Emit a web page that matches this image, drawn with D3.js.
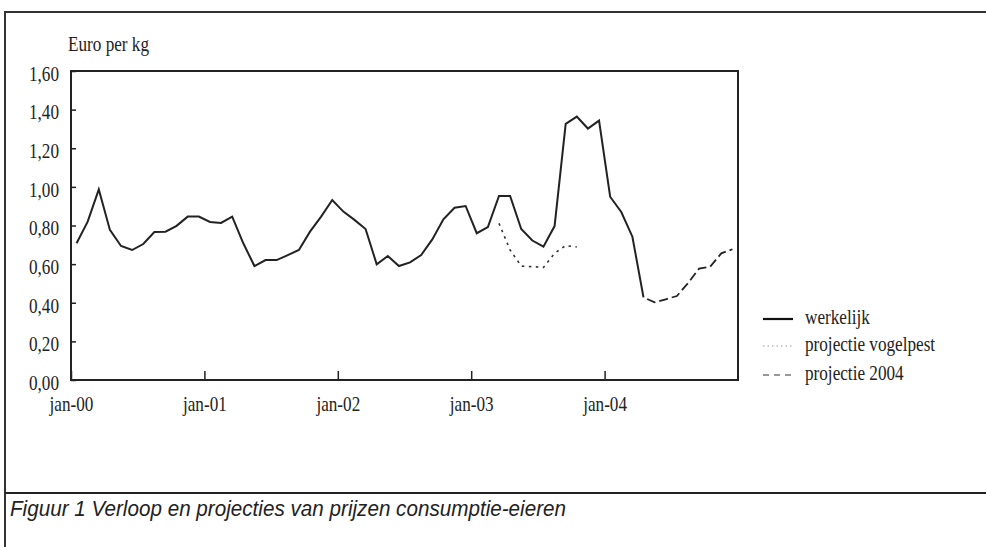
<!DOCTYPE html>
<html>
<head>
<meta charset="utf-8">
<script src="https://cdn.jsdelivr.net/npm/d3@7"></script>
<style>
  html, body { margin: 0; padding: 0; background: #fff; }
  svg { display: block; }
  .serif { font-family: "Liberation Serif", "Times New Roman", serif; font-size: 22px; fill: #222; }
</style>
</head>
<body>
<script>
// tick labels
const yearLabels = ["jan-00", "jan-01", "jan-02", "jan-03", "jan-04"];
const yearTicks = [0, 12, 24, 36, 48];        // month index of each january
const yTicks = [0, 0.2, 0.4, 0.6, 0.8, 1.0, 1.2, 1.4, 1.6];

// werkelijk: monthly price, jan-00 .. apr-04
const werkelijk = [
  0.708, 0.820, 0.987, 0.777, 0.694, 0.673, 0.704, 0.766, 0.768, 0.798, 0.846, 0.846,
  0.818, 0.813, 0.846, 0.708, 0.590, 0.621, 0.621, 0.647, 0.673, 0.768, 0.846, 0.932,
  0.872, 0.829, 0.782, 0.599, 0.642, 0.590, 0.609, 0.647, 0.728, 0.832, 0.892, 0.901,
  0.760, 0.792, 0.953, 0.953, 0.782, 0.722, 0.690, 0.797, 1.326, 1.364, 1.302, 1.343,
  0.949, 0.870, 0.742, 0.428
];
// projectie vogelpest: mrt-03 .. okt-03
const vogelpestStart = 38;
const vogelpest = [0.811, 0.673, 0.590, 0.587, 0.583, 0.656, 0.696, 0.689];
// projectie 2004: apr-04 .. dec-04
const proj2004Start = 51;
const proj2004 = [0.428, 0.402, 0.418, 0.435, 0.501, 0.577, 0.587, 0.656, 0.677];

const legendItems = ["werkelijk", "projectie vogelpest", "projectie 2004"];
const caption = "Figuur 1 Verloop en projecties van prijzen consumptie-eieren";

const W = 986, H = 547;
const plot = { left: 71, right: 738, top: 71, bottom: 380 };

const svg = d3.select("body").append("svg")
    .attr("width", W)
    .attr("height", H);

// outer frame (top + left) and caption rule
svg.append("line")
    .attr("x1", 5).attr("x2", W).attr("y1", 12).attr("y2", 12)
    .attr("stroke", "#333").attr("stroke-width", 2);
svg.append("line")
    .attr("x1", 5).attr("x2", 5).attr("y1", 11).attr("y2", H)
    .attr("stroke", "#333").attr("stroke-width", 2);
svg.append("line")
    .attr("x1", 5).attr("x2", W).attr("y1", 493).attr("y2", 493)
    .attr("stroke", "#222").attr("stroke-width", 2);

const x = d3.scaleLinear()
    .domain([0, 60])
    .range([plot.left, plot.right]);

const y = d3.scaleLinear()
    .domain([0, 1.6])
    .range([plot.bottom, plot.top]);

// y axis, ticks pointing inward
const yAxis = svg.append("g")
    .attr("transform", `translate(${plot.left},0)`)
    .call(d3.axisLeft(y)
        .tickValues(yTicks)
        .tickSizeInner(-5)
        .tickSizeOuter(0)
        .tickPadding(12)
        .tickFormat(d => d3.format(".2f")(d).replace(".", ",")));

// x axis, ticks pointing inward
const xAxis = svg.append("g")
    .attr("transform", `translate(0,${plot.bottom})`)
    .call(d3.axisBottom(x)
        .tickValues(yearTicks)
        .tickSizeInner(-9)
        .tickSizeOuter(0)
        .tickPadding(15)
        .tickFormat((d, i) => yearLabels[i]));

[yAxis, xAxis].forEach(ax => {
    ax.select(".domain").remove();
    ax.selectAll(".tick line").attr("stroke", "#222").attr("stroke-width", 1.5);
    ax.selectAll(".tick text")
        .attr("class", "serif cond")
        .attr("fill", "#222");
    ax.attr("font-family", null).attr("font-size", null);
});
yAxis.selectAll(".tick text").attr("dy", "0.42em");

// plot box
svg.append("rect")
    .attr("x", plot.left)
    .attr("y", plot.top)
    .attr("width", plot.right - plot.left)
    .attr("height", plot.bottom - plot.top)
    .attr("fill", "none")
    .attr("stroke", "#222")
    .attr("stroke-width", 2);

svg.append("text")
    .attr("class", "serif cond")
    .attr("x", 68)
    .attr("y", 51)
    .text("Euro per kg");

// lines
const line = d3.line()
    .x(d => x(d[0] + 0.5))
    .y(d => y(d[1]));

svg.append("path")
    .datum(werkelijk.map((v, i) => [i, v]))
    .attr("d", line)
    .attr("fill", "none")
    .attr("stroke", "#222")
    .attr("stroke-width", 2)
    .attr("stroke-linejoin", "miter");

svg.append("path")
    .datum(vogelpest.map((v, i) => [vogelpestStart + i, v]))
    .attr("d", line)
    .attr("fill", "none")
    .attr("stroke", "#333")
    .attr("stroke-width", 1.6)
    .attr("stroke-dasharray", "2.5,4.5");

svg.append("path")
    .datum(proj2004.map((v, i) => [proj2004Start + i, v]))
    .attr("d", line)
    .attr("fill", "none")
    .attr("stroke", "#222")
    .attr("stroke-width", 1.8)
    .attr("stroke-dasharray", "0,4,9,0");

// legend
const legendY = [324, 351, 380];
const legendStyles = [
    { dash: null, width: 2.2, color: "#111" },
    { dash: "1.5,3", width: 1, color: "#999" },
    { dash: "6,5", width: 1.2, color: "#333" }
];
const legend = svg.append("g");
legendItems.forEach((name, i) => {
    legend.append("line")
        .attr("x1", 763).attr("x2", 793)
        .attr("y1", legendY[i] - 5).attr("y2", legendY[i] - 5)
        .attr("stroke", legendStyles[i].color)
        .attr("stroke-width", legendStyles[i].width)
        .attr("stroke-dasharray", legendStyles[i].dash);
    legend.append("text")
        .attr("class", "serif cond")
        .attr("x", 805)
        .attr("y", legendY[i])
        .text(name);
});

// caption
svg.append("text")
    .attr("x", 10)
    .attr("y", 516)
    .attr("font-family", "'Liberation Sans', Arial, sans-serif")
    .attr("font-style", "italic")
    .attr("font-size", 22)
    .attr("fill", "#222")
    .attr("textLength", 556)
    .attr("lengthAdjust", "spacingAndGlyphs")
    .text(caption);

// narrow the serif text the way the original typeface looks
svg.selectAll("text.cond").each(function() {
    const len = this.getComputedTextLength();
    d3.select(this)
        .attr("textLength", len * 0.78)
        .attr("lengthAdjust", "spacingAndGlyphs");
});
</script>
</body>
</html>
